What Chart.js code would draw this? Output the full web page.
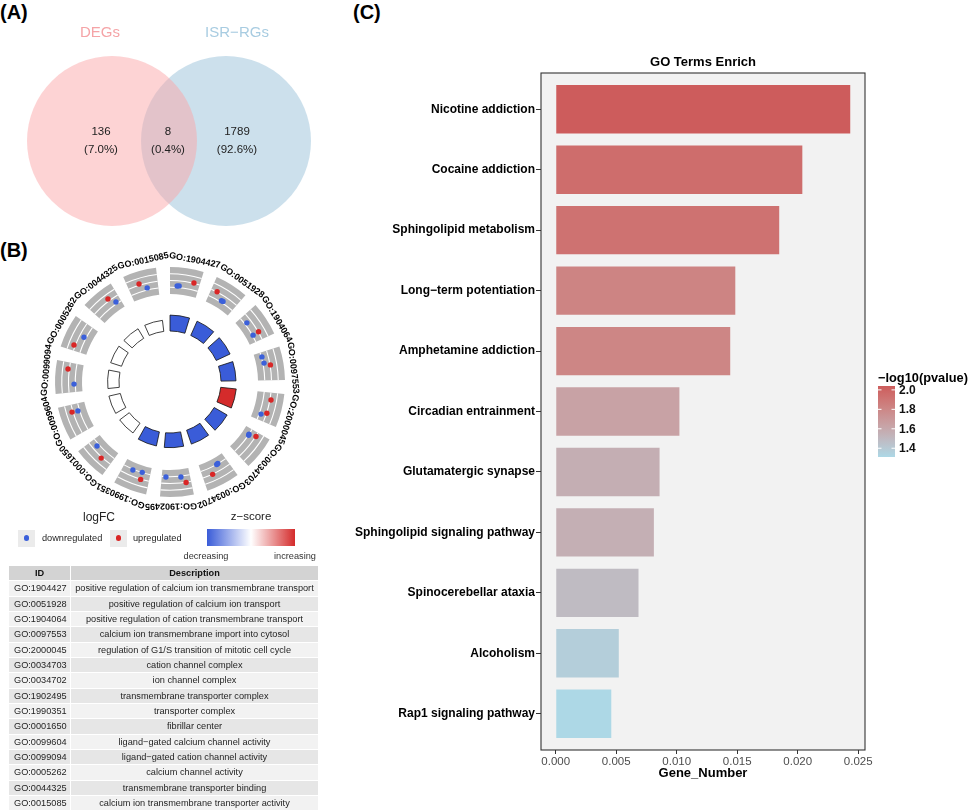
<!DOCTYPE html>
<html><head><meta charset="utf-8">
<script src="https://cdn.jsdelivr.net/npm/chart.js@4.4.1/dist/chart.umd.min.js"></script>
<style>
html,body{margin:0;padding:0;background:#fff;}
body{width:969px;height:812px;position:relative;overflow:hidden;font-family:"Liberation Sans",Arial,Helvetica,sans-serif;color:#222;}
canvas{position:absolute;}
.plabel{position:absolute;font-weight:bold;font-size:20px;line-height:20px;color:#000;}
.t{position:absolute;white-space:nowrap;line-height:1;}
.cell{position:absolute;font-size:9.2px;line-height:14.3px;height:14.3px;white-space:nowrap;overflow:hidden;color:#1e1e1e;}
</style></head><body>
<div class="plabel" style="left:0;top:2px">(A)</div>
<div class="plabel" style="left:0;top:240px">(B)</div>
<div class="plabel" style="left:353px;top:2px">(C)</div>
<canvas id="cA" width="330" height="240" style="left:0;top:0;width:330px;height:240px"></canvas>
<canvas id="cB" width="300" height="300" style="left:20px;top:232px;width:300px;height:300px"></canvas>
<canvas id="cC" width="639" height="782" style="left:330px;top:30px;width:639px;height:782px"></canvas>
<div id="legB"></div>
<div id="tbl"></div>
<script>
// ================= DATA =================
// Panel A: Venn
const vennSetNames = ['DEGs', 'ISR\u2212RGs'];
const vennRegionCounts = [136, 8, 1789];           // DEGs only, both, ISR-RGs only

// Panel B: GO circle
const goIDs = ['GO:1904427','GO:0051928','GO:1904064','GO:0097553','GO:2000045','GO:0034703','GO:0034702','GO:1902495','GO:1990351','GO:0001650','GO:0099604','GO:0099094','GO:0005262','GO:0044325','GO:0015085'];
const goDescriptions = ['positive regulation of calcium ion transmembrane transport','positive regulation of calcium ion transport','positive regulation of cation transmembrane transport','calcium ion transmembrane import into cytosol','regulation of G1/S transition of mitotic cell cycle','cation channel complex','ion channel complex','transmembrane transporter complex','transporter complex','fibrillar center','ligand\u2212gated calcium channel activity','ligand\u2212gated cation channel activity','calcium channel activity','transmembrane transporter binding','calcium ion transmembrane transporter activity'];
const goNegLogAdjP = [2.65, 2.6, 2.55, 2.5, 2.6, 2.5, 2.45, 2.45, 2.4, 2.0, 1.95, 1.9, 1.9, 1.85, 1.85];
// genes of each term: term index, place inside the term's sector (0..1), logFC
const geneTerm  = [0,0,0, 1,1,1, 2,2,2, 3,3,3, 4,4,4, 5,5,5, 6,6,6, 7,7,7, 8,8,8, 9,9, 10,10, 11,11, 12,12, 13,13, 14,14];
const genePlace = [.25,.32,.80, .21,.49,.55, .26,.74,.73, .16,.39,.49, .24,.79,.70, .20,.24,.14, .33,.38,.66, .85,.32,.17, .64,.30,.28, .75,.36, .76,.74, .78,.28, .56,.18, .66,.82, .38,.61];
const geneLogFC = [-1.16,-1.10,0.09, 0.06,-1.18,-1.12, -1.0,-1.36,0.07, -1.38,-1.24,0.08, 0.24,-1.11,0.06, -1.53,-1.45,0.07, -1.56,-1.50,0.05, -1.42,-1.31,0.06, -1.33,-1.55,0.05, -0.98,0.24, 0.22,-1.11, 0.29,-1.22, -1.0,0.31, 0.47,-1.11, 0.29,-1.04];
const logFCLimits = [-3, 3];
const logFCGridLines = [-1.5, 0, 1.5];

// Panel C: enrichment bars
const keggTerms = ['Nicotine addiction','Cocaine addiction','Sphingolipid metabolism','Long\u2212term potentiation','Amphetamine addiction','Circadian entrainment','Glutamatergic synapse','Sphingolipid signaling pathway','Spinocerebellar ataxia','Alcoholism','Rap1 signaling pathway'];
const geneNumber = [0.02434, 0.02038, 0.01847, 0.01484, 0.01442, 0.01022, 0.00858, 0.00811, 0.00684, 0.00521, 0.00459];
const negLog10P = [2.04, 1.95, 1.92, 1.82, 1.81, 1.64, 1.57, 1.56, 1.49, 1.37, 1.31];
const xTickValues = [0, 0.005, 0.010, 0.015, 0.020, 0.025];
const pLegendTicks = [2.0, 1.8, 1.6, 1.4];

// ================= HELPERS =================
const FONT = '"Liberation Sans", Arial, Helvetica, sans-serif';
Chart.defaults.font.family = FONT;
Chart.defaults.animation = false;
Chart.defaults.plugins.legend.display = false;
Chart.defaults.plugins.tooltip.enabled = false;
Chart.defaults.events = [];

function hexRgb(h){h=h.replace('#','');return [0,2,4].map(i=>parseInt(h.substr(i,2),16));}
function s2l(c){c/=255;return c<=0.04045?c/12.92:Math.pow((c+0.055)/1.055,2.4);}
function l2s(c){const v=c<=0.0031308?12.92*c:1.055*Math.pow(c,1/2.4)-0.055;return Math.round(Math.max(0,Math.min(1,v))*255);}
function rgbLab(rgb){const [R,G,B]=rgb.map(s2l);
  const X=(0.4124*R+0.3576*G+0.1805*B)/0.95047,Y=0.2126*R+0.7152*G+0.0722*B,Z=(0.0193*R+0.1192*G+0.9505*B)/1.08883;
  const f=t=>t>0.008856?Math.cbrt(t):(7.787*t+16/116);const fx=f(X),fy=f(Y),fz=f(Z);
  return [116*fy-16,500*(fx-fy),200*(fy-fz)];}
function labRgb(lab){const [L,a,b]=lab;const fy=(L+16)/116,fx=fy+a/500,fz=fy-b/200;
  const fi=t=>t*t*t>0.008856?t*t*t:(t-16/116)/7.787;
  const X=fi(fx)*0.95047,Y=fi(fy),Z=fi(fz)*1.08883;
  return [3.2406*X-1.5372*Y-0.4986*Z,-0.9689*X+1.8758*Y+0.0415*Z,0.0557*X-0.2040*Y+1.0570*Z].map(l2s);}
function labMix(c1,c2,t){const a=rgbLab(hexRgb(c1)),b=rgbLab(hexRgb(c2));
  const m=labRgb(a.map((v,i)=>v+(b[i]-v)*t));return 'rgb('+m.join(',')+')';}
function rgbMix(c1,c2,t){const a=hexRgb(c1),b=hexRgb(c2);return 'rgb('+a.map((v,i)=>Math.round(v+(b[i]-v)*t)).join(',')+')';}

// ================= PANEL A : VENN =================
(function(){
  const L = {cy:141, r:85, cxL:112, cxR:226, labelY:33, numY:132, pctY:150};
  const total = vennRegionCounts.reduce((a,b)=>a+b,0);
  const pct = vennRegionCounts.map(v=>'('+(100*v/total).toFixed(1)+'%)');
  const vennText = {
    id:'vennText',
    afterDatasetsDraw(chart){
      const ctx=chart.ctx, sx=chart.scales.x, sy=chart.scales.y;
      ctx.save();
      ctx.textAlign='center'; ctx.textBaseline='middle';
      ctx.font='15px '+FONT;
      ctx.fillStyle='#F5A4A7'; ctx.fillText(vennSetNames[0], sx.getPixelForValue(L.cxL-12), sy.getPixelForValue(L.labelY));
      ctx.fillStyle='#A8CCE1'; ctx.fillText(vennSetNames[1], sx.getPixelForValue(L.cxR+11), sy.getPixelForValue(L.labelY));
      ctx.fillStyle='#222'; ctx.font='11.5px '+FONT;
      const xs=[L.cxL-11,(L.cxL+L.cxR)/2-1,L.cxR+11];
      xs.forEach((x,i)=>{
        ctx.fillText(String(vennRegionCounts[i]), sx.getPixelForValue(x), sy.getPixelForValue(L.numY));
        ctx.fillText(pct[i], sx.getPixelForValue(x), sy.getPixelForValue(L.pctY));
      });
      ctx.restore();
    }
  };
  new Chart(document.getElementById('cA'),{
    type:'bubble',
    data:{datasets:[
      {data:[{x:L.cxL,y:L.cy,r:L.r}],backgroundColor:'rgba(251,167,170,0.5)',borderWidth:0,clip:false},
      {data:[{x:L.cxR,y:L.cy,r:L.r}],backgroundColor:'rgba(153,193,218,0.5)',borderWidth:0,clip:false}
    ]},
    options:{responsive:false,layout:{padding:0,autoPadding:false},
      scales:{x:{type:'linear',min:0,max:330,display:false},y:{type:'linear',min:0,max:240,reverse:true,display:false}},
      elements:{point:{hoverRadius:0}}},
    plugins:[vennText]
  });
})();

// ================= PANEL B : GO CIRCLE =================
(function(){
  const G = {seg:24, span:17, ringIn:88, ringOut:115, barBase:51, barScale:6, labelR:124, labelShift:11.5};
  const zBlue='#3A5CD8', zRed='#D42B2B';
  const dotBlue='#3B60DA', dotRed='#D92626';
  const ringR = v => G.ringIn + (v-logFCLimits[0])/(logFCLimits[1]-logFCLimits[0])*(G.ringOut-G.ringIn);
  const z = goIDs.map((id,t)=>{let up=0,dn=0;geneTerm.forEach((gt,i)=>{if(gt===t){if(geneLogFC[i]>0)up++;else dn++;}});return (up-dn)/Math.sqrt(up+dn);});
  const zMax = Math.max(...z.map(Math.abs));
  const zCol = v => v<0 ? rgbMix('#FFFFFF',zBlue,-v/zMax) : rgbMix('#FFFFFF',zRed,v/zMax);
  const pts = geneTerm.map((t,i)=>{const a=(t*G.seg+G.span*genePlace[i])*Math.PI/180;const r=ringR(geneLogFC[i]);return {x:r*Math.sin(a),y:r*Math.cos(a)};});
  const cols = geneLogFC.map(v=>v>0?dotRed:dotBlue);
  const goc = {
    id:'goc',
    beforeDatasetsDraw(chart){
      const ctx=chart.ctx, sx=chart.scales.x, sy=chart.scales.y;
      const cx=sx.getPixelForValue(0), cy=sy.getPixelForValue(0), k=sx.getPixelForValue(1)-cx;
      const sector=(r0,r1,a0,a1)=>{const s=(a0-90)*Math.PI/180,e=(a1-90)*Math.PI/180;
        ctx.beginPath();ctx.arc(cx,cy,r1*k,s,e,false);ctx.arc(cx,cy,r0*k,e,s,true);ctx.closePath();};
      ctx.save();
      goIDs.forEach((id,t)=>{
        const a0=t*G.seg, a1=a0+G.span;
        sector(G.ringIn,G.ringOut,a0,a1); ctx.fillStyle='#B3B3B3'; ctx.fill();
        ctx.strokeStyle='#FFFFFF'; ctx.lineWidth=1.1;
        logFCGridLines.forEach(v=>{ctx.beginPath();ctx.arc(cx,cy,ringR(v)*k,(a0-90)*Math.PI/180,(a1-90)*Math.PI/180);ctx.stroke();});
        sector(G.barBase,G.barBase+goNegLogAdjP[t]*G.barScale,a0,a1);
        ctx.fillStyle=zCol(z[t]); ctx.fill(); ctx.strokeStyle='#111'; ctx.lineWidth=0.8; ctx.stroke();
      });
      ctx.fillStyle='#000'; ctx.font='bold 9px '+FONT; ctx.textAlign='center'; ctx.textBaseline='middle';
      goIDs.forEach((id,t)=>{
        const ph=(t*G.seg+G.labelShift)*Math.PI/180;
        ctx.save();
        ctx.translate(cx+G.labelR*k*Math.sin(ph), cy-G.labelR*k*Math.cos(ph));
        ctx.rotate(ph); ctx.fillText(id,0,0); ctx.restore();
      });
      ctx.restore();
    }
  };
  new Chart(document.getElementById('cB'),{
    type:'scatter',
    data:{datasets:[{data:pts,pointBackgroundColor:cols,pointBorderWidth:0,pointRadius:2.7,clip:false}]},
    options:{responsive:false,layout:{padding:0,autoPadding:false},
      scales:{x:{type:'linear',min:-150,max:150,display:false},y:{type:'linear',min:-150,max:150,display:false}}},
    plugins:[goc]
  });
  const lg=document.getElementById('legB');
  lg.innerHTML =
    '<div class="t" style="left:83px;top:511px;font-size:12px;width:30px;text-align:center;color:#222">logFC</div>'+
    '<div class="t" style="left:229px;top:511px;font-size:11.5px;width:44px;text-align:center;color:#222">z\u2212score</div>'+
    '<div class="t" style="left:18px;top:530px;width:17px;height:17px;background:#EBEBEB"></div>'+
    '<div class="t" style="left:23.8px;top:535.3px;width:5.4px;height:5.4px;border-radius:50%;background:'+dotBlue+'"></div>'+
    '<div class="t" style="left:42px;top:533.5px;font-size:9.2px;color:#222">downregulated</div>'+
    '<div class="t" style="left:110px;top:530px;width:17px;height:17px;background:#EBEBEB"></div>'+
    '<div class="t" style="left:115.8px;top:535.3px;width:5.4px;height:5.4px;border-radius:50%;background:'+dotRed+'"></div>'+
    '<div class="t" style="left:133px;top:533.5px;font-size:9.2px;color:#222">upregulated</div>'+
    '<div class="t" style="left:207px;top:529px;width:88px;height:17px;background:linear-gradient(to right,'+zBlue+',#ffffff 50%,'+zRed+')"></div>'+
    '<div class="t" style="left:176px;top:551.5px;width:60px;text-align:center;font-size:9.2px;color:#333">decreasing</div>'+
    '<div class="t" style="left:265px;top:551.5px;width:60px;text-align:center;font-size:9.2px;color:#333">increasing</div>';
  const tb=document.getElementById('tbl');
  const rowH=15.33, top0=566, xId=9, wId=61, xDe=71, wDe=247;
  let h='';
  const cell=(x,y,w,bg,txt,align,bold,pad)=>'<div class="cell" style="left:'+x+'px;top:'+y+'px;width:'+(w-pad)+'px;padding-left:'+pad+'px;background:'+bg+';text-align:'+align+';'+(bold?'font-weight:bold;color:#111;':'')+'">'+txt+'</div>';
  h+=cell(xId,top0,wId,'#D3D3D3','ID','center',true,0)+cell(xDe,top0,wDe,'#D3D3D3','Description','center',true,0);
  goIDs.forEach((id,i)=>{
    const y=(top0+(i+1)*rowH).toFixed(2), bg=i%2===0?'#F2F2F2':'#E6E6E6';
    h+=cell(xId,y,wId,bg,id,'left',false,5)+cell(xDe,y,wDe,bg,goDescriptions[i],'center',false,0);
  });
  tb.innerHTML=h;
})();

// ================= PANEL C : BARS =================
(function(){
  const low='#ADD8E6', high='#CD5C5C';
  const pMin=Math.min(...negLog10P), pMax=Math.max(...negLog10P);
  const fillOf=v=>labMix(low,high,(v-pMin)/(pMax-pMin));
  const bgCols=negLog10P.map(fillOf);
  const frame={
    id:'frame',
    beforeDatasetsDraw(chart){const {ctx,chartArea:a}=chart;ctx.save();ctx.fillStyle='#F2F2F2';ctx.fillRect(a.left,a.top,a.right-a.left,a.bottom-a.top);ctx.restore();},
    afterDraw(chart){
      const {ctx,chartArea:a}=chart;ctx.save();
      ctx.strokeStyle='#333';ctx.lineWidth=1.1;ctx.strokeRect(a.left,a.top,a.right-a.left,a.bottom-a.top);
      ctx.fillStyle='#000';ctx.font='bold 13px '+FONT;ctx.textAlign='center';ctx.textBaseline='middle';
      ctx.fillText('GO Terms Enrich',(a.left+a.right)/2,32);
      const bx=548,by=356,bw=17,bh=71;
      const tickY=v=>by+(pMax-v)/(pMax-pMin)*bh;
      const gr=ctx.createLinearGradient(0,by,0,by+bh);
      for(let i=0;i<=20;i++){gr.addColorStop(i/20,fillOf(pMax-(pMax-pMin)*i/20));}
      ctx.fillStyle=gr;ctx.fillRect(bx,by,bw,bh);
      ctx.strokeStyle='#fff';ctx.lineWidth=1;
      ctx.font='bold 12px '+FONT;ctx.textAlign='left';
      pLegendTicks.forEach(v=>{const y=tickY(v);
        ctx.beginPath();ctx.moveTo(bx,y);ctx.lineTo(bx+3.5,y);ctx.moveTo(bx+bw-3.5,y);ctx.lineTo(bx+bw,y);ctx.stroke();
        ctx.fillStyle='#111';ctx.fillText(v.toFixed(1),bx+bw+4,y+0.5);});
      ctx.fillStyle='#000';ctx.font='bold 12.8px '+FONT;ctx.fillText('\u2212log10(pvalue)',bx,348);
      ctx.restore();
    }
  };
  new Chart(document.getElementById('cC'),{
    type:'bar',
    data:{datasets:[{data:geneNumber.map((v,i)=>({x:v,y:i})),backgroundColor:bgCols,borderWidth:0,barPercentage:0.8,categoryPercentage:1.0}]},
    options:{
      indexAxis:'y',responsive:false,
      layout:{padding:{left:0,right:104,top:43,bottom:0},autoPadding:false},
      scales:{
        x:{type:'linear',min:-0.00122,max:0.02556,offset:false,
          afterBuildTicks:s=>{s.ticks=xTickValues.map(v=>({value:v}));},
          afterFit:s=>{s.height=62;},
          ticks:{autoSkip:false,maxRotation:0,padding:1,color:'#4D4D4D',font:{size:11.5},callback:v=>Number(v).toFixed(3)},
          grid:{display:true,offset:false,drawOnChartArea:false,drawTicks:true,tickLength:4,tickColor:'#333',tickWidth:1},
          border:{display:false},
          title:{display:true,text:'Gene_Number',color:'#000',font:{size:13,weight:'bold'},padding:{top:0,bottom:31}}},
        y:{type:'linear',min:-0.6,max:10.6,reverse:true,offset:false,
          afterBuildTicks:s=>{s.ticks=keggTerms.map((c,i)=>({value:i}));},
          afterFit:s=>{s.width=211;},
          ticks:{autoSkip:false,padding:1,color:'#000',font:{size:12,weight:'bold'},callback:v=>keggTerms[v]},
          grid:{display:true,offset:false,drawOnChartArea:false,drawTicks:true,tickLength:5,tickColor:'#333',tickWidth:1},
          border:{display:false}}
      }
    },
    plugins:[frame]
  });
})();
</script>
</body></html>
